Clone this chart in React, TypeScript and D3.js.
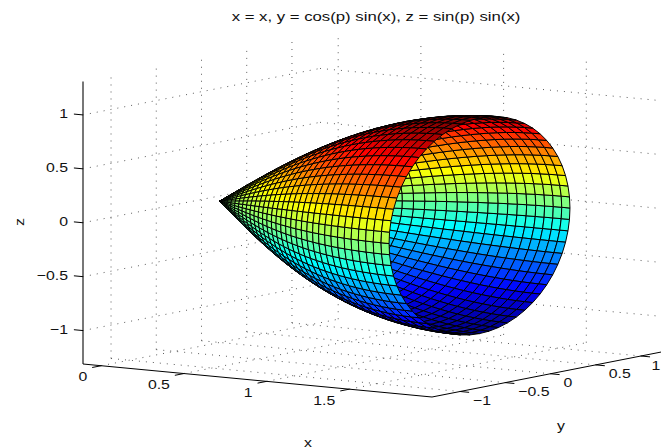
import React from "react";
import * as d3 from "d3";

const width = 661;
const height = 448;

const xLim = [-0.11, 2];
const yLim = [-1.31, 1.31];
const zLim = [-1.31, 1.31];

const xTicks = [0, 0.5, 1, 1.5];
const yTicks = [-1, -0.5, 0, 0.5, 1];
const zTicks = [-1, -0.5, 0, 0.5, 1];

// jet colormap
const jetStops = [0, 0.125, 0.375, 0.625, 0.875, 1];
const jetColors = ["#00008f", "#0000ff", "#00ffff", "#ffff00", "#ff0000", "#800000"];

// mesh of the surface, heights come from the equations in the chart title
const xSteps = 32;
const pSteps = 60;
const xEnd = Math.PI / 2;

// plot box on screen
const origin = [83, 364];
const xVec = [349, 33];
const yVec = [237, -46.5];
const zVec = [0, -282.5];

const xScale = d3.scaleLinear().domain(xLim).range([0, 1]);
const yScale = d3.scaleLinear().domain(yLim).range([0, 1]);
const zScale = d3.scaleLinear().domain(zLim).range([0, 1]);
const jet = d3.scaleLinear<string>().domain(jetStops.map((d) => d * 2 - 1)).range(jetColors);

type P3 = [number, number, number];

const project = ([x, y, z]: P3): [number, number] => {
  const a = xScale(x);
  const b = yScale(y);
  const c = zScale(z);
  return [
    origin[0] + a * xVec[0] + b * yVec[0] + c * zVec[0],
    origin[1] + a * xVec[1] + b * yVec[1] + c * zVec[1],
  ];
};

// the direction that projects to a single pixel, pointing at the viewer
const viewDir = (): P3 => {
  const dx = 1 / (xLim[1] - xLim[0]);
  const dy = 1 / (yLim[1] - yLim[0]);
  const dz = 1 / (zLim[1] - zLim[0]);
  const r1 = [xVec[0] * dx, yVec[0] * dy, zVec[0] * dz];
  const r2 = [xVec[1] * dx, yVec[1] * dy, zVec[1] * dz];
  return [
    r1[2] * r2[1] - r1[1] * r2[2],
    r1[0] * r2[2] - r1[2] * r2[0],
    r1[1] * r2[0] - r1[0] * r2[1],
  ];
};

const polygon = d3.line().curve(d3.curveLinearClosed);
const segment = d3.line();

const buildFaces = () => {
  const view = viewDir();
  const xs = d3.range(xSteps + 1).map((i) => (i / xSteps) * xEnd);
  const ps = d3.range(pSteps + 1).map((i) => (i / pSteps) * 2 * Math.PI);
  const vertex = (x: number, p: number): P3 => [x, Math.cos(p) * Math.sin(x), Math.sin(p) * Math.sin(x)];
  const faces = [];
  for (let i = 0; i < xSteps; i++) {
    for (let j = 0; j < pSteps; j++) {
      const quad = [
        vertex(xs[i], ps[j]),
        vertex(xs[i + 1], ps[j]),
        vertex(xs[i + 1], ps[j + 1]),
        vertex(xs[i], ps[j + 1]),
      ];
      const depth = d3.mean(quad, (v) => v[0] * view[0] + v[1] * view[1] + v[2] * view[2]);
      faces.push({
        d: polygon(quad.map(project)),
        fill: jet(quad[0][2]),
        depth,
      });
    }
  }
  return faces.sort((a, b) => a.depth - b.depth);
};

const gridLines = () => {
  const lines: P3[][] = [];
  xTicks.forEach((x) => {
    lines.push([[x, yLim[1], zLim[0]], [x, yLim[1], zLim[1]]]);
    lines.push([[x, yLim[0], zLim[0]], [x, yLim[1], zLim[0]]]);
  });
  yTicks.forEach((y) => {
    lines.push([[xLim[0], y, zLim[0]], [xLim[0], y, zLim[1]]]);
    lines.push([[xLim[0], y, zLim[0]], [xLim[1], y, zLim[0]]]);
  });
  zTicks.forEach((z) => {
    lines.push([[xLim[0], yLim[0], z], [xLim[0], yLim[1], z]]);
    lines.push([[xLim[0], yLim[1], z], [xLim[1], yLim[1], z]]);
  });
  return lines;
};

const fontFamily = "'Liberation Sans', Arial, sans-serif";
const tickSize = 13.2;

const Label = ({ x, y, anchor = "middle", size = tickSize, stretch = 1.2, rotate = 0, children }: any) => (
  <text
    transform={`translate(${x},${y}) rotate(${rotate}) scale(${stretch},1)`}
    textAnchor={anchor}
    dominantBaseline="central"
    fontFamily={fontFamily}
    fontSize={size}
    fill="#111"
  >
    {children}
  </text>
);

const fmt = (v: number) => String(v).replace("-", "\u2212");

export default function App() {
  const faces = buildFaces();
  const tickLen = 0.055;

  return (
    <svg
      width={width}
      height={height}
      viewBox={`0 0 ${width} ${height}`}
      style={{ position: "absolute", left: 0, top: 0, background: "#fff" }}
    >
      {gridLines().map((l, i) => (
        <path key={i} d={segment(l.map(project)) ?? ""} fill="none" stroke="#333" strokeWidth={0.8} strokeDasharray="1 6" />
      ))}

      <path d={segment([project([xLim[0], yLim[0], zLim[0]]), project([xLim[0], yLim[0], zLim[1]])]) ?? ""} stroke="#555" strokeWidth={1.6} fill="none" />
      <path d={segment([project([xLim[0], yLim[0], zLim[0]]), project([xLim[1], yLim[0], zLim[0]])]) ?? ""} stroke="#000" strokeWidth={1} fill="none" />
      <path d={segment([project([xLim[1], yLim[0], zLim[0]]), project([xLim[1], yLim[1], zLim[0]])]) ?? ""} stroke="#000" strokeWidth={1} fill="none" />

      {xTicks.map((t) => {
        const a = project([t, yLim[0], zLim[0]]);
        return (
          <g key={t}>
            <path d={segment([a, project([t, yLim[0] - 0.1, zLim[0]])]) ?? ""} stroke="#000" fill="none" />
            <Label x={a[0] - 14} y={a[1] + 11} anchor="end">{fmt(t)}</Label>
          </g>
        );
      })}
      {yTicks.map((t) => {
        const a = project([xLim[1], t, zLim[0]]);
        return (
          <g key={t}>
            <path d={segment([a, project([xLim[1] + tickLen, t, zLim[0]])]) ?? ""} stroke="#000" fill="none" />
            <Label x={Math.min(a[0] + 13, 651.5)} y={a[1] + 9} anchor="start">{fmt(t)}</Label>
          </g>
        );
      })}
      {zTicks.map((t) => {
        const a = project([xLim[0], yLim[0], t]);
        return (
          <g key={t}>
            <path d={segment([a, project([xLim[0] - tickLen, yLim[0], t])]) ?? ""} stroke="#000" fill="none" />
            <Label x={a[0] - 15} y={a[1] - 1} anchor="end">{fmt(t)}</Label>
          </g>
        );
      })}

      {faces.map((f, i) => (
        <path key={i} d={f.d ?? ""} fill={f.fill} stroke="#000" strokeWidth={1} strokeLinejoin="round" />
      ))}

      <Label x={376} y={17} size={12.5} stretch={1.34}>x = x, y = cos(p) sin(x), z = sin(p) sin(x)</Label>
      <Label x={308} y={442}>x</Label>
      <Label x={561} y={425}>y</Label>
      <Label x={19} y={222} rotate={-90}>z</Label>
    </svg>
  );
}
